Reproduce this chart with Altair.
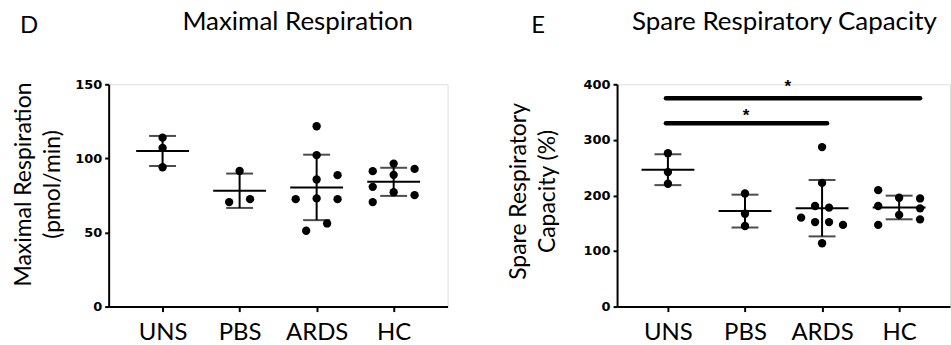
import altair as alt
import pandas as pd

groups = ["UNS", "PBS", "ARDS", "HC"]
panel_letters = ["D", "E"]
panel_titles = ["Maximal Respiration", "Spare Respiratory Capacity"]
y_titles = [["Maximal Respiration", "(pmol/min)"], ["Spare Respiratory", "Capacity (%)"]]

# Panel D - Maximal Respiration (pmol/min)
mr_uns = [114, 107, 94]
mr_pbs = [91.5, 70.5, 72.5]
mr_ards = [121.7, 102.2, 85.8, 88.7, 72.5, 73.0, 72.5, 56.1, 51.2]
mr_hc = [91.4, 96.5, 92.9, 88.9, 80.8, 77.2, 70.5, 75.2]
# scatter column of each dot (dots sharing a level are spread sideways)
mr_uns_slot = [0, 0, 0]
mr_pbs_slot = [0, -1, 1]
mr_ards_slot = [0, 0, 0, 2, -2, 0, 2, 1, -1]
mr_hc_slot = [-2, 0, 2, 0, -2, 0, -2, 2]
mr_ticks = [0, 50, 100, 150]

# Panel E - Spare Respiratory Capacity (%)
src_uns = [276, 242, 221]
src_pbs = [203.5, 167, 145]
src_ards = [287, 222.6, 181, 178, 160, 152, 152, 147, 114]
src_hc = [209.5, 195.8, 194.6, 181, 176.8, 165, 157, 147]
src_uns_slot = [0, 0, 0]
src_pbs_slot = [0, 0, 0]
src_ards_slot = [0, 0, -1, 1, -3, -1, 1, 3, 0]
src_hc_slot = [-3, 0, 3, -3, 3, 0, 3, -3]
src_ticks = [0, 100, 200, 300, 400]

# significance brackets (panel E)
sig_from = ["UNS", "UNS"]
sig_to = ["HC", "ARDS"]
sig_y = [375, 330]
sig_text = ["*", "*"]


def make_df(vals, slots):
    rows = []
    for g, v, s in zip(groups, vals, slots):
        for a, b in zip(v, s):
            rows.append({"group": g, "value": a, "slot": b})
    return pd.DataFrame(rows)


TXT = "Lato"
NUM = "DejaVu Sans"


def panel(df, width, ymax, ticks, ytitle, letter, title, xpad, slot_px, title_pad,
          title_y, letter_x, title_x, sig=None):
    xscale = alt.Scale(type="point", domain=groups, padding=xpad)
    xaxis = alt.Axis(title=None, labelAngle=0, labelFont=TXT, labelFontSize=24,
                     labelColor="black", labelPadding=9, tickSize=5, tickWidth=2,
                     tickColor="black", domainColor="black", domainWidth=2, grid=False)
    yscale = alt.Scale(domain=[0, ymax], nice=False, zero=True)
    yaxis = alt.Axis(values=ticks, title=ytitle, titleFont=TXT, titleFontSize=23,
                     titleFontWeight="normal", titleColor="black", titlePadding=title_pad,
                     titleLineHeight=29, titleY=title_y,
                     labelFont=NUM, labelFontWeight="bold", labelFontSize=13,
                     labelColor="black", labelPadding=3, tickSize=4, tickWidth=2,
                     tickColor="black", domainColor="black", domainWidth=2, grid=False)
    base = alt.Chart(df)
    X = alt.X("group:N", scale=xscale, axis=xaxis)
    pts = base.mark_circle(size=70, opacity=1, color="black").encode(
        x=X,
        y=alt.Y("value:Q", scale=yscale, axis=yaxis),
        xOffset=alt.XOffset("slot:Q", scale=alt.Scale(domain=[-3, 3],
                                                      range=[-3 * slot_px, 3 * slot_px])),
    )
    err = base.mark_errorbar(extent="stdev", ticks=True, size=27, thickness=2,
                             color="black").encode(
        x=X, y=alt.Y("value:Q", scale=yscale, axis=yaxis))
    mean = base.mark_tick(size=53, thickness=2, color="black", opacity=1).encode(
        x=X, y=alt.Y("mean(value):Q", scale=yscale, axis=yaxis))
    layers = [pts, err, mean]

    if sig is not None:
        for f, t, yv, s, end_off, star_dx, star_dy in sig:
            d = pd.DataFrame({"from": [f], "to": [t], "y": [yv], "s": [s], "mid": ["PBS"]})
            layers.append(alt.Chart(d).mark_rule(strokeWidth=4.5, strokeCap="round",
                                                 color="black", xOffset=-2,
                                                 x2Offset=end_off).encode(
                x=alt.X("from:N", scale=xscale, axis=xaxis), x2="to:N",
                y=alt.Y("y:Q", scale=yscale, axis=yaxis)))
            layers.append(alt.Chart(d).mark_text(font="Liberation Sans", fontWeight="bold",
                                                 fontSize=17, color="black",
                                                 baseline="alphabetic", dx=star_dx,
                                                 dy=star_dy).encode(
                x=alt.X("mid:N", scale=xscale, axis=xaxis),
                y=alt.Y("y:Q", scale=yscale, axis=yaxis), text="s:N"))

    lab = pd.DataFrame({"t": [letter]})
    layers.append(alt.Chart(lab).mark_text(font=TXT, fontSize=24, color="black",
                                           align="left", baseline="alphabetic").encode(
        text="t:N", x=alt.value(letter_x), y=alt.value(-51)))
    tt = pd.DataFrame({"t": [title]})
    layers.append(alt.Chart(tt).mark_text(font=TXT, fontSize=26, color="black",
                                          align="left", baseline="alphabetic").encode(
        text="t:N", x=alt.value(title_x), y=alt.value(-54)))

    return alt.layer(*layers).properties(width=width, height=223)


left = panel(make_df([mr_uns, mr_pbs, mr_ards, mr_hc],
                     [mr_uns_slot, mr_pbs_slot, mr_ards_slot, mr_hc_slot]),
             340, 150, mr_ticks, y_titles[0], panel_letters[0], panel_titles[0],
             xpad=0.7, slot_px=10.5, title_pad=10, title_y=100,
             letter_x=-89, title_x=74)

sig = [(sig_from[0], sig_to[0], sig_y[0], sig_text[0], 21, 43, -6),
       (sig_from[1], sig_to[1], sig_y[1], sig_text[1], 5, 1, -2)]
right = panel(make_df([src_uns, src_pbs, src_ards, src_hc],
                      [src_uns_slot, src_pbs_slot, src_ards_slot, src_hc_slot]),
              334, 400, src_ticks, y_titles[1], panel_letters[1], panel_titles[1],
              xpad=0.66, slot_px=7, title_pad=24, title_y=107,
              letter_x=-86, title_x=15, sig=sig)

chart = alt.hconcat(left, right, spacing=170, bounds="flush").resolve_scale(
    xOffset="independent"
).properties(
    padding={"left": 12, "top": 8, "right": 0, "bottom": 5},
    autosize=alt.AutoSizeParams(type="pad"),
).configure_view(stroke=None).configure(background="white")

chart.save("out.html", embed_options={"renderer": "svg", "actions": False})
